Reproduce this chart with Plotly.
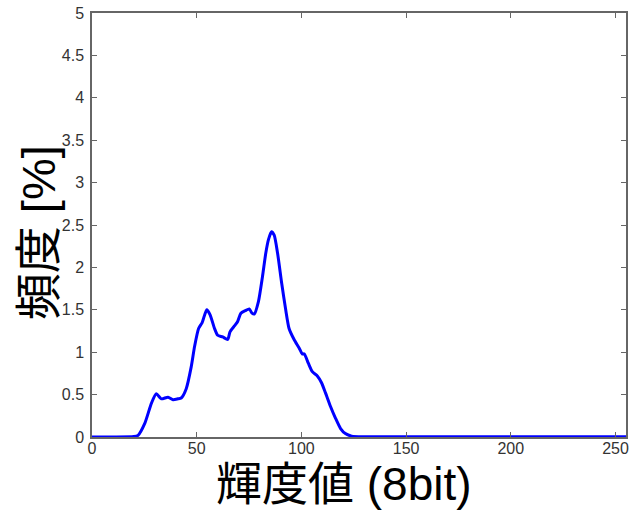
import plotly.graph_objects as go

# Read-off histogram values (luminance, frequency %)
luminance = [0, 10, 20, 22, 25.2, 28.4, 30.7, 33.1, 36.3, 38.7, 41.0, 42.6, 45.0, 47.4, 49.0,
             50.9, 52.6, 54.8, 56.4, 58.5, 60.0, 62.4, 64.8, 65.9, 68.0, 69.5, 71.1, 73.2,
             75.1, 76.4, 77.5, 79.5, 81.4, 83.0, 84.3, 85.7, 87.0, 88.6, 90.6, 92.5, 94.1,
             96.5, 98.9, 100.4, 101.4, 103.3, 105.2, 107.6, 109.6, 111.5, 113.9, 116.3,
             118.7, 121, 124, 130, 150, 200, 255]
frequency = [0, 0, 0.005, 0.02, 0.16, 0.40, 0.51, 0.45, 0.47, 0.44, 0.45, 0.46, 0.57, 0.83, 1.07,
             1.28, 1.35, 1.50, 1.44, 1.28, 1.20, 1.18, 1.15, 1.24, 1.31, 1.36, 1.46, 1.49,
             1.51, 1.46, 1.45, 1.60, 1.89, 2.17, 2.33, 2.42, 2.38, 2.17, 1.81, 1.50, 1.28,
             1.15, 1.05, 0.98, 0.98, 0.87, 0.77, 0.72, 0.64, 0.52, 0.36, 0.22,
             0.10, 0.04, 0.01, 0.003, 0.002, 0.002, 0.002]

x_ticks = [0, 50, 100, 150, 200, 250]
y_ticks = [0, 0.5, 1, 1.5, 2, 2.5, 3, 3.5, 4, 4.5, 5]
y_tick_text = ["0", "0.5", "1", "1.5", "2", "2.5", "3", "3.5", "4", "4.5", "5"]

x_title = "輝度値 (8bit)"
y_title = "頻度 [%]"

font_fam = "Liberation Sans, Arial, Noto Sans CJK JP, sans-serif"
title_fam = "Liberation Sans, Noto Sans CJK JP, sans-serif"

fig = go.Figure()
fig.add_trace(go.Scatter(x=luminance, y=frequency, mode="lines",
                         line=dict(color="#0000FF", width=3, shape="spline", smoothing=0.6),
                         hoverinfo="skip", showlegend=False))

axis_common = dict(showgrid=False, zeroline=False, showline=True, linecolor="#666666",
                   linewidth=1.5, mirror="allticks", ticks="inside", ticklen=5,
                   tickcolor="#666666", tickfont=dict(family=font_fam, size=16, color="#333333"))

fig.update_layout(
    width=632, height=512,
    margin=dict(l=92, r=3, t=13, b=75),
    paper_bgcolor="white", plot_bgcolor="white",
    xaxis=dict(range=[0, 255], tickvals=x_ticks, ticklabelstandoff=-4, **axis_common),
    yaxis=dict(range=[0, 5], tickvals=y_ticks, ticktext=y_tick_text, ticklabelstandoff=3,
               **axis_common),
    annotations=[
        dict(text=x_title, xref="paper", yref="paper", x=0.471, y=-0.112,
             xanchor="center", yanchor="middle", showarrow=False,
             font=dict(family=title_fam, size=46, color="black")),
        dict(text=y_title, xref="paper", yref="paper", x=-0.1, y=0.482,
             xanchor="center", yanchor="middle", showarrow=False, textangle=-90,
             font=dict(family=title_fam, size=47, color="black")),
    ],
)

fig.write_html("out.html")
